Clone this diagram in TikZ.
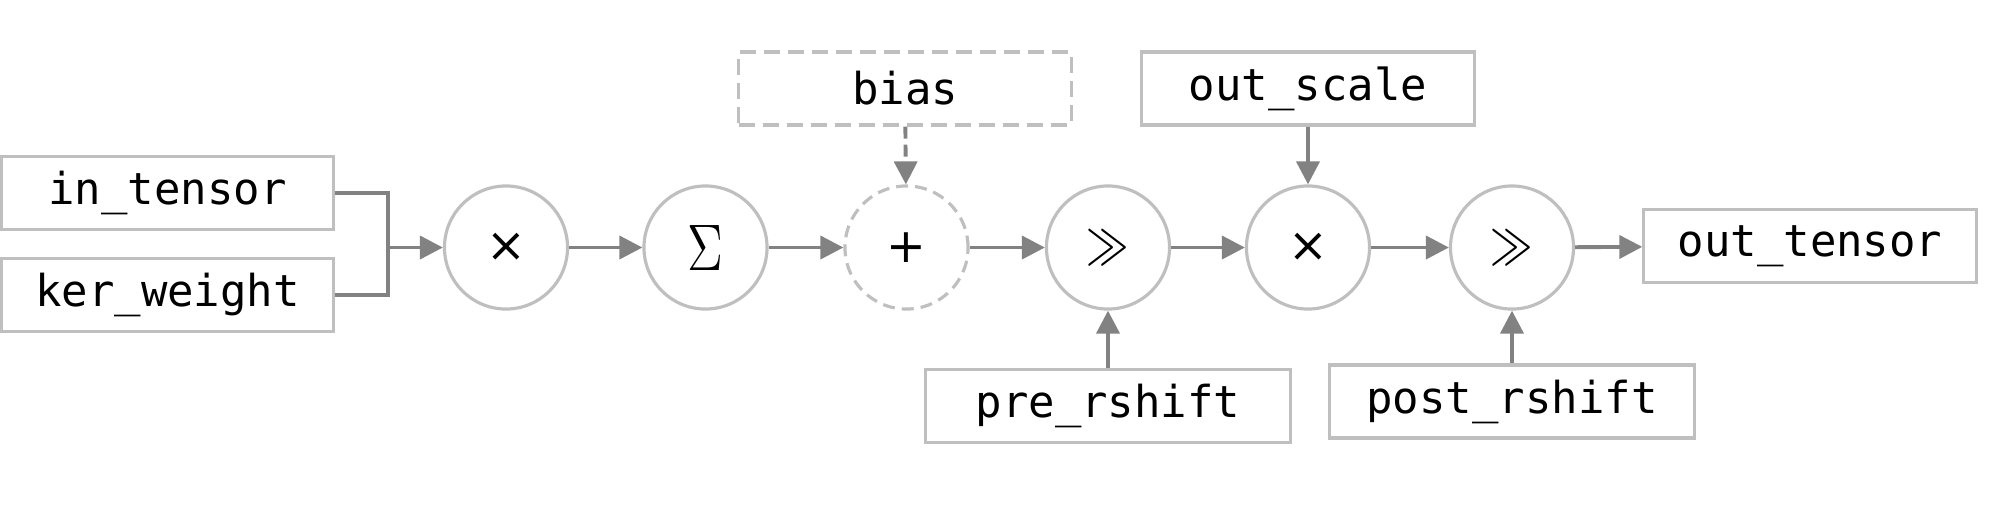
\documentclass[tikz,border=0pt]{standalone}
\usepackage{fontspec}
\setmonofont{DejaVu Sans Mono}
\newfontfamily\opfont{DejaVu Sans}
\usetikzlibrary{arrows.meta}
\definecolor{boxgray}{HTML}{BFBFBF}
\definecolor{wiregray}{HTML}{828282}
\tikzset{
BOX/.style={draw=boxgray,line width=0.9pt,minimum width=3.32cm,minimum height=0.73cm,inner sep=0pt,font=\ttfamily\fontsize{12.5}{15}\selectfont},
OP/.style={circle,draw=boxgray,line width=0.9pt,minimum size=1.23cm,inner sep=0pt,font=\fontsize{13}{13}\selectfont},
WIRE/.style={draw=wiregray,line width=1.1pt},
LINK/.style={WIRE,-{Triangle[length=0.23cm,width=0.23cm]}},
}
\newcommand{\opsym}[2][1.25]{\scalebox{1}[#1]{$#2$}}
\newcommand{\optext}[1]{\raisebox{-1.5pt}{\opfont\fontsize{13.5}{13.5}\selectfont #1}}

\begin{document}
\begin{tikzpicture}[x=0.01cm,y=-0.01cm] %requantized conv
	\useasboundingbox (0,0) rectangle (1999,529);
	% inputs
	\node[BOX] (in_tensor) at (167.5,193) {in\_tensor};
	\node[BOX] (ker_weight) at (167.5,295) {ker\_weight};
	\node[BOX,dashed,dash pattern=on 0.16cm off 0.08cm] (bias) at (905,88.5) {bias};
	\node[BOX] (out_scale) at (1308,88.5) {out\_scale};
	\node[BOX,minimum width=3.64cm] (pre_rshift) at (1108,406) {pre\_rshift};
	\node[BOX,minimum width=3.64cm] (post_rshift) at (1512,401.5) {post\_rshift};
	\node[BOX] (out_tensor) at (1810,246) {out\_tensor};
	% operators
	\node[OP] (mul) at (506,247.5) {\optext{×}};
	\node[OP,font=\fontsize{14}{14}\selectfont] (sum) at (705.5,247.5) {\opsym[1.3]{\Sigma}};
	\node[OP,dashed,dash pattern=on 0.12cm off 0.07cm] (add) at (906.5,247.5) {\optext{+}};
	\node[OP,font=\fontsize{11.5}{11.5}\selectfont] (rshift) at (1108,247.5) {\opsym[1.4]{\gg}};
	\node[OP] (scale) at (1308,247.5) {\optext{×}};
	\node[OP,font=\fontsize{11.5}{11.5}\selectfont] (postshift) at (1512,247.5) {\opsym[1.4]{\gg}};
	% wires
	\coordinate (join) at (388,247.5);
	\path[WIRE] (in_tensor.east) -| (join) |- (ker_weight.east);
	\path[LINK] (join) -- (mul);
	\path[LINK] (mul) -- (sum);
	\path[LINK] (sum) -- (add);
	\path[LINK] (add) -- (rshift);
	\path[LINK] (rshift) -- (scale);
	\path[LINK] (scale) -- (postshift);
	\path[LINK] (postshift) -- (out_tensor);
	\path[LINK,dashed,dash pattern=on 0.12cm off 0.06cm] (bias) -- (add);
	\path[LINK] (out_scale) -- (scale);
	\path[LINK] (pre_rshift) -- (rshift);
	\path[LINK] (post_rshift) -- (postshift);
\end{tikzpicture}
\end{document}
